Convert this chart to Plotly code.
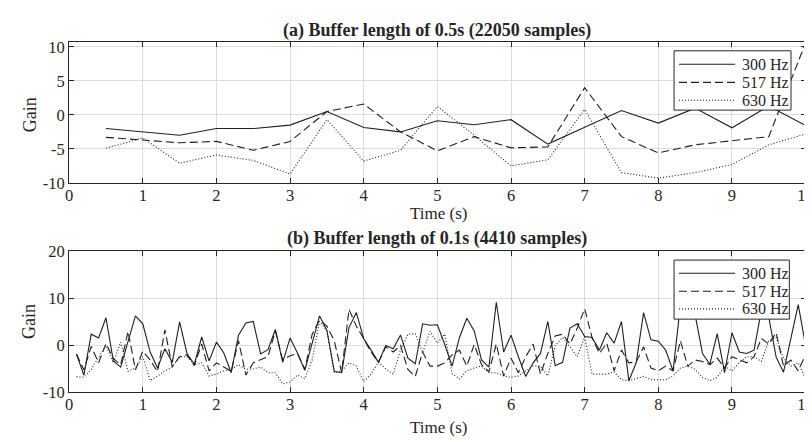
import plotly.graph_objects as go

# ---------------- data ----------------
time_a = [0.5, 1.0, 1.5, 2.0, 2.5, 3.0, 3.5, 4.0, 4.5, 5.0,
          5.5, 6.0, 6.5, 7.0, 7.5, 8.0, 8.5, 9.0, 9.5, 10.0]
gain_a_300 = [-2.0, -2.5, -3.0, -2.0, -2.0, -1.5, 0.5, -1.85, -2.5, -0.85,
              -1.45, -0.7, -4.3, -1.8, 0.65, -1.2, 1.0, -1.9, 1.3, -1.55]
gain_a_517 = [-3.3, -3.65, -4.1, -3.9, -5.2, -3.9, 0.5, 1.6, -2.5, -5.3,
              -3.2, -4.85, -4.7, 4.0, -3.2, -5.6, -4.4, -3.8, -3.2, 10.6]
gain_a_630 = [-4.9, -3.4, -7.1, -5.9, -6.7, -8.7, -0.7, -6.8, -5.2, 1.25,
              -3.0, -7.5, -6.6, 0.8, -8.5, -9.3, -8.5, -7.3, -4.4, -2.8]

time_b = [round(0.1 * k, 1) for k in range(1, 101)]
gain_b_300 = [-1.9, -6.3, 2.4, 1.6, 5.9, -3.3, -4.6, 1.0, 6.3, 4.6,
              -1.4, -4.8, -0.7, -3.6, 5.0, -1.7, -4.0, 1.8, -3.3, 0.7,
              -1.6, -5.8, 2.2, 4.8, 5.1, -1.8, -0.9, 3.4, -3.6, 1.6,
              -1.6, -5.3, 0.5, 6.3, 3.2, -5.5, -5.8, 3.8, 7.0, 1.4,
              -1.0, -3.6, 0.0, -0.7, 2.2, -2.7, -3.9, 4.6, 4.3, 4.4,
              0.2, -4.4, 1.7, 5.8, 3.1, -3.1, -4.6, 9.2, -1.4, 2.2,
              -2.4, -6.6, -3.7, -1.7, 5.1, -4.3, -3.6, 3.7, 4.6, 1.9,
              1.7, -1.0, 2.7, 0.5, 5.1, -7.5, -3.7, 7.0, 1.2, 0.9,
              -1.0, -5.4, 8.5, 7.0, 6.5, -1.7, -4.0, 2.5, -5.8, 2.7,
              -1.4, -1.7, -1.0, 7.5, 6.0, -2.5, -5.7, 1.5, 8.7, 0.0]
gain_b_517 = [-1.8, -5.2, -0.2, -3.7, 0.4, -2.8, -4.1, 3.0, -5.2, -1.2,
              -3.1, -5.6, 3.3, -4.5, -2.4, -2.0, -4.3, 0.3, -5.4, -3.7,
              -4.6, -5.5, 1.0, -6.3, -3.7, -3.0, -2.4, 3.1, -3.1, -2.2,
              -1.7, -5.1, 2.4, 5.4, 4.1, 1.0, -5.8, 7.7, 4.1, 1.4,
              -1.4, -3.6, -0.3, -1.4, 0.0, -5.1, -6.6, -1.4, -4.4, -4.4,
              -3.7, -2.0, -1.0, -4.4, 0.2, -4.1, -5.6, 0.3, -6.5, -2.7,
              -5.8, -2.4, 0.3, -6.1, -1.7, 2.0, 2.4, 0.3, 3.7, 7.8,
              1.7, -1.7, 0.5, -5.4, -1.0, -3.7, -3.5, -0.3, -4.8, -5.4,
              -4.4, -5.4, 1.0, -4.4, -3.1, -3.4, -4.1, -2.7, -4.8, -2.4,
              -3.1, -3.7, -2.4, 1.5, 0.3, 2.7, -4.4, -3.1, -5.4, -2.0]
gain_b_630 = [-6.6, -6.8, -5.1, -2.4, 0.0, -3.7, 0.7, -5.5, -4.8, -2.4,
              -7.5, -6.5, -5.4, -4.6, -2.4, -2.4, -4.1, -3.7, -6.5, -6.1,
              -5.4, -5.1, -4.1, -5.1, -5.0, -4.6, -5.8, -5.8, -8.2, -7.8,
              -6.3, -7.1, -3.1, 5.1, 3.1, -5.8, -5.4, -3.7, -4.4, -7.7,
              -6.1, -3.6, -5.0, -6.1, -1.0, 2.4, 2.5, -1.5, 3.0, 0.5,
              2.4, -6.0, -7.1, -5.4, -4.8, -4.4, -5.8, -5.8, -6.5, -6.8,
              -6.5, -5.4, -4.4, -4.4, -6.5, 0.0, 1.7, -0.3, -2.4, 1.8,
              -6.1, -6.1, -6.1, -5.6, -7.3, -7.5, -7.1, -6.6, -7.3, -7.3,
              -7.3, -6.5, -4.8, -4.4, -5.1, -6.8, -7.5, -6.8, -4.4, -5.4,
              -3.7, -2.4, -2.4, -3.4, 1.0, 1.7, -2.7, -4.4, -3.7, -7.1]

series_names = ["300 Hz", "517 Hz", "630 Hz"]
x_ticks = [0, 1, 2, 3, 4, 5, 6, 7, 8, 9, 10]
y_ticks_a = [-10, -5, 0, 5, 10]
y_ticks_b = [-10, 0, 10, 20]

# ---------------- style ----------------
W, H = 812, 442
FONT = "Liberation Serif"
TXT = "#262626"
GRID = "#dcdcdc"
LINE_C = "#1f1f1f"
dashes = ["solid", "8px,4px", "1px,2px"]


def px_x(p):
    return p / W


def px_y(p):
    return 1 - p / H


def tick_text(vals):
    return [("-" + str(abs(v))) if v < 0 else str(v) for v in vals]


fig = go.Figure()

for i, ys in enumerate([gain_a_300, gain_a_517, gain_a_630]):
    fig.add_trace(go.Scatter(x=time_a, y=ys, mode="lines", name=series_names[i],
                             line=dict(color=LINE_C, width=1.1, dash=dashes[i]),
                             xaxis="x", yaxis="y", showlegend=False))
for i, ys in enumerate([gain_b_300, gain_b_517, gain_b_630]):
    fig.add_trace(go.Scatter(x=time_b, y=ys, mode="lines", name=series_names[i],
                             line=dict(color=LINE_C, width=1.1, dash=dashes[i]),
                             xaxis="x2", yaxis="y2", showlegend=False))

axis_common = dict(showline=True, linecolor=TXT, linewidth=1, mirror="allticks",
                   ticks="inside", ticklen=5, tickcolor=TXT, showgrid=True,
                   gridcolor=GRID, gridwidth=1, zeroline=False,
                   ticklabeloverflow="allow",
                   tickfont=dict(family=FONT, size=16.5, color=TXT))

x_dom = [px_x(58), px_x(805.5)]
fig.update_layout(
    width=W, height=H,
    margin=dict(l=0, r=0, t=0, b=0),
    paper_bgcolor="white", plot_bgcolor="white",
    font=dict(family=FONT, color=TXT),
    showlegend=False,
    xaxis=dict(domain=x_dom, range=[0, 10], tickvals=x_ticks, ticktext=tick_text(x_ticks),
               anchor="y", ticklabelstandoff=-3, **axis_common),
    yaxis=dict(domain=[px_y(173.3), px_y(26)], range=[-10, 10.75], tickvals=y_ticks_a,
               ticktext=tick_text(y_ticks_a), anchor="x", **axis_common),
    xaxis2=dict(domain=x_dom, range=[0, 10], tickvals=x_ticks, ticktext=tick_text(x_ticks),
                anchor="y2", ticklabelstandoff=-3, **axis_common),
    yaxis2=dict(domain=[px_y(392.3), px_y(245)], range=[-10, 20], tickvals=y_ticks_b,
                ticktext=tick_text(y_ticks_b), anchor="x2", **axis_common),
)

# text labels
ann = [
    dict(text="<b>(a) Buffer length of 0.5s (22050 samples)</b>", x=431.7, y=14.5, size=18),
    dict(text="<b>(b) Buffer length of 0.1s (4410 samples)</b>", x=431.7, y=231, size=18),
    dict(text="Time (s)", x=433, y=205, size=17),
    dict(text="Time (s)", x=433, y=429, size=17),
]
for a in ann:
    fig.add_annotation(text=a["text"], x=px_x(a["x"]), y=px_y(a["y"]), xref="paper", yref="paper",
                       showarrow=False, xanchor="center", yanchor="middle",
                       font=dict(family=FONT, size=a["size"], color=TXT))
for yc in [102, 318]:
    fig.add_annotation(text="Gain", x=px_x(18), y=px_y(yc), xref="paper", yref="paper",
                       showarrow=False, textangle=-90, xanchor="center", yanchor="middle",
                       font=dict(family=FONT, size=18, color=TXT))

# legend boxes (MATLAB style: long line samples, text at right)
legend_boxes = [
    dict(x0=672, x1=790.7, y0=35.3, y1=97.3, rows=[49.3, 68.3, 87.0]),
    dict(x0=672, x1=789, y0=254, y1=315.7, rows=[267.7, 286.5, 305.0]),
]
for box in legend_boxes:
    fig.add_shape(type="rect", xref="paper", yref="paper",
                  x0=px_x(box["x0"]), x1=px_x(box["x1"]), y0=px_y(box["y1"]), y1=px_y(box["y0"]),
                  line=dict(color=TXT, width=1), fillcolor="white", layer="above")
    for i, ry in enumerate(box["rows"]):
        fig.add_shape(type="line", xref="paper", yref="paper",
                      x0=px_x(677), x1=px_x(734), y0=px_y(ry), y1=px_y(ry),
                      line=dict(color=LINE_C, width=1.1, dash=dashes[i]), layer="above")
        fig.add_annotation(text=series_names[i], x=px_x(739), y=px_y(ry), xref="paper", yref="paper",
                           showarrow=False, xanchor="left", yanchor="middle",
                           font=dict(family=FONT, size=16, color=TXT))

fig.write_html("out.html")
